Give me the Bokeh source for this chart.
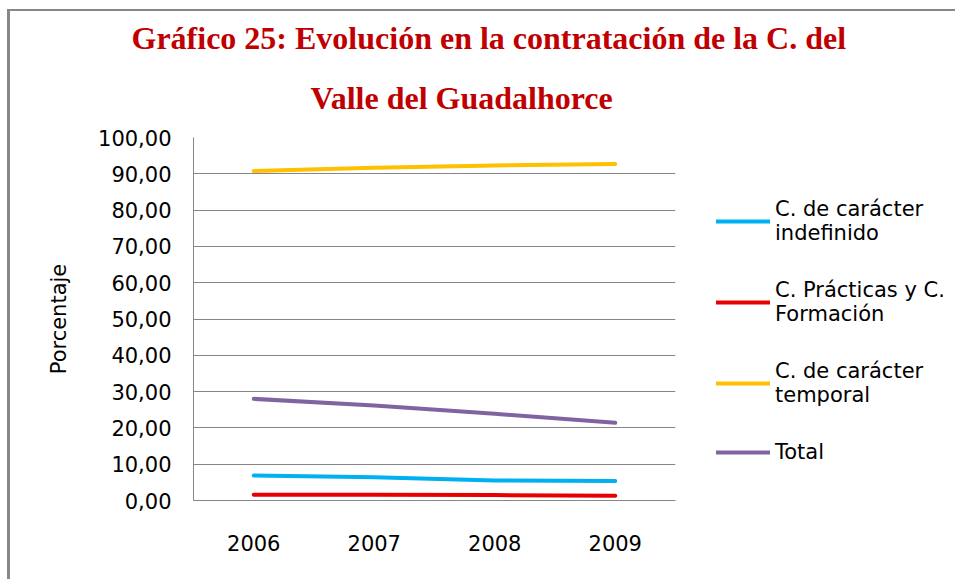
from bokeh.plotting import figure
from bokeh.models import (ColumnDataSource, Range1d, FactorRange, FixedTicker,
                          CustomJSTickFormatter, Legend, LegendItem, Title)
from bokeh.embed import file_html
from bokeh.resources import INLINE

years = ["2006", "2007", "2008", "2009"]
indefinido = [6.9, 6.4, 5.5, 5.4]
practicas = [1.6, 1.6, 1.5, 1.3]
temporal = [90.8, 91.7, 92.3, 92.7]
total = [28.0, 26.2, 23.9, 21.4]
y_ticks = [0, 10, 20, 30, 40, 50, 60, 70, 80, 90, 100]

series_names = ["C. de carácter\nindefinido", "C. Prácticas y C.\nFormación",
                "C. de carácter\ntemporal", "Total"]
series_values = [indefinido, practicas, temporal, total]
series_colors = ["#00B0F0", "#E80000", "#FFC000", "#8064A2"]

title_line1 = "Gráfico 25: Evolución en la contratación de la C. del"
title_line2 = "Valle del Guadalhorce"

FONT = "DejaVu Sans"
FS = "21px"

p = figure(frame_width=482, frame_height=363,
           x_range=FactorRange(*years, range_padding=0),
           y_range=Range1d(0, 100), output_backend="svg", toolbar_location=None,
           min_border_left=183, min_border_right=10, min_border_top=126,
           min_border_bottom=79, title=title_line1)
p.styles = {"margin-left": "7px", "margin-top": "9px",
            "border-left": "3px solid #878787", "border-top": "2px solid #878787"}
p.outline_line_color = None

p.title.align = "left"
p.title.offset = -62
p.title.text_font = "Liberation Serif"
p.title.text_font_style = "bold"
p.title.text_font_size = "32px"
p.title.text_color = "#C00000"
p.title.standoff = 0
t2 = Title(text=title_line2, align="left", offset=117, text_font="Liberation Serif",
           text_font_style="bold", text_font_size="32px", text_color="#C00000",
           standoff=44)
p.add_layout(t2, "above")

items = []
for name, vals, col in zip(series_names, series_values, series_colors):
    src = ColumnDataSource(dict(x=years, y=vals))
    r = p.line("x", "y", source=src, line_color=col, line_width=4, line_cap="round")
    items.append(LegendItem(label=name, renderers=[r]))

legend = Legend(items=items, location=(41, 36), glyph_width=54, glyph_height=20,
                label_standoff=5, padding=0, margin=0, spacing=33,
                border_line_color=None, background_fill_alpha=0,
                label_text_font=FONT, label_text_font_size=FS,
                label_text_line_height=1.4, label_text_color="#000000")
p.add_layout(legend, "right")

p.yaxis.ticker = FixedTicker(ticks=y_ticks)
p.yaxis.formatter = CustomJSTickFormatter(code="return tick.toFixed(2).replace('.', ',');")
p.yaxis.axis_label = "Porcentaje"
p.yaxis.axis_label_text_font = FONT
p.yaxis.axis_label_text_font_size = FS
p.yaxis.axis_label_text_font_style = "normal"
p.yaxis.axis_label_text_color = "#000000"
p.yaxis.axis_label_standoff = 24

for ax in (p.xaxis, p.yaxis):
    ax.major_tick_line_color = None
    ax.minor_tick_line_color = None
    ax.major_tick_out = 0
    ax.major_tick_in = 0
    ax.axis_line_color = "#868686"
    ax.major_label_text_font = FONT
    ax.major_label_text_font_size = FS
    ax.major_label_text_color = "#000000"
p.yaxis.major_label_standoff = 22
p.xaxis.major_label_standoff = 34

p.xgrid.grid_line_color = None
p.ygrid.grid_line_color = "#868686"
p.ygrid.grid_line_width = 1

open("out.html", "w").write(file_html(p, INLINE))
